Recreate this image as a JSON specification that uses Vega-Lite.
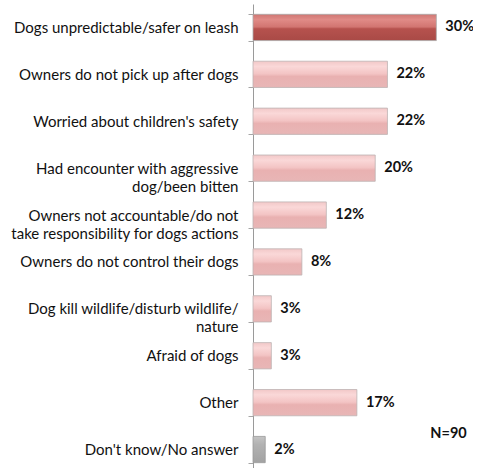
{
  "$schema": "https://vega.github.io/schema/vega-lite/v6.json",
  "width": 220,
  "height": 469,
  "autosize": {"type": "none"},
  "padding": {"left": 253, "top": 4, "right": 0, "bottom": 0},
  "background": "white",
  "config": {"view": {"stroke": null}},
  "data": {
    "values": [
      {"reason": "Dogs unpredictable/safer on leash", "pct": 0.30},
      {"reason": "Owners do not pick up after dogs", "pct": 0.22},
      {"reason": "Worried about children's safety", "pct": 0.22},
      {"reason": "Had encounter with aggressive\ndog/been bitten", "pct": 0.20},
      {"reason": "Owners not accountable/do not\ntake responsibility for dogs actions", "pct": 0.12},
      {"reason": "Owners do not control their dogs", "pct": 0.08},
      {"reason": "Dog kill wildlife/disturb wildlife/\nnature", "pct": 0.03},
      {"reason": "Afraid of dogs", "pct": 0.03},
      {"reason": "Other", "pct": 0.17},
      {"reason": "Don't know/No answer", "pct": 0.02}
    ]
  },
  "encoding": {
    "y": {
      "field": "reason",
      "type": "nominal",
      "sort": null,
      "scale": {"paddingInner": 0.44, "paddingOuter": 0.22},
      "axis": {
        "title": null,
        "labelExpr": "split(datum.label, '\\n')",
        "labelFont": "Lato",
        "labelFontSize": 15,
        "labelColor": "#111111",
        "labelLineHeight": 18,
        "labelPadding": 10,
        "labelLimit": 260,
        "tickBand": "extent",
        "tickSize": 5,
        "tickColor": "#a6a6a6",
        "domainColor": "#9a9a9a",
        "domainWidth": 1
      }
    },
    "x": {
      "field": "pct",
      "type": "quantitative",
      "scale": {"domain": [0, 0.36]},
      "axis": null
    }
  },
  "layer": [
    {
      "transform": [{"filter": "datum.pct >= 0.3"}],
      "mark": {
        "type": "bar",
        "stroke": "#a9a9a9",
        "strokeWidth": 0.8,
        "fill": {
          "gradient": "linear", "x1": 0, "y1": 0, "x2": 0, "y2": 1,
          "stops": [
            {"offset": 0, "color": "#cf7773"},
            {"offset": 0.2, "color": "#e08b87"},
            {"offset": 0.48, "color": "#d27571"},
            {"offset": 0.55, "color": "#b6524e"},
            {"offset": 1, "color": "#a94a46"}
          ]
        }
      }
    },
    {
      "transform": [{"filter": "datum.pct < 0.3 && datum.reason != \"Don't know/No answer\""}],
      "mark": {
        "type": "bar",
        "stroke": "#bdb3b3",
        "strokeWidth": 0.8,
        "fill": {
          "gradient": "linear", "x1": 0, "y1": 0, "x2": 0, "y2": 1,
          "stops": [
            {"offset": 0, "color": "#f2c8c8"},
            {"offset": 0.2, "color": "#fad8d8"},
            {"offset": 0.48, "color": "#f3c4c4"},
            {"offset": 0.58, "color": "#e9b1b1"},
            {"offset": 1, "color": "#e8b6b6"}
          ]
        }
      }
    },
    {
      "transform": [{"filter": "datum.reason == \"Don't know/No answer\""}],
      "mark": {
        "type": "bar",
        "stroke": "#9a9a9a",
        "strokeWidth": 0.8,
        "fill": {
          "gradient": "linear", "x1": 0, "y1": 0, "x2": 0, "y2": 1,
          "stops": [
            {"offset": 0, "color": "#c4c4c4"},
            {"offset": 0.3, "color": "#b2b2b2"},
            {"offset": 1, "color": "#a2a2a2"}
          ]
        }
      }
    },
    {
      "mark": {
        "type": "text",
        "align": "left",
        "baseline": "middle",
        "dx": 9,
        "font": "Lato",
        "fontSize": 14.5,
        "fontWeight": "bold",
        "color": "#111111"
      },
      "encoding": {
        "text": {"field": "pct", "type": "quantitative", "format": ".0%"}
      }
    },
    {
      "transform": [
        {"filter": "datum.reason == \"Don't know/No answer\""}
      ],
      "mark": {
        "type": "text",
        "align": "center",
        "baseline": "middle",
        "dy": -16,
        "font": "Lato",
        "fontSize": 14.5,
        "fontWeight": "bold",
        "color": "#111111",
        "text": "N=90"
      },
      "encoding": {
        "x": {"datum": 0.32, "type": "quantitative"}
      }
    }
  ]
}
